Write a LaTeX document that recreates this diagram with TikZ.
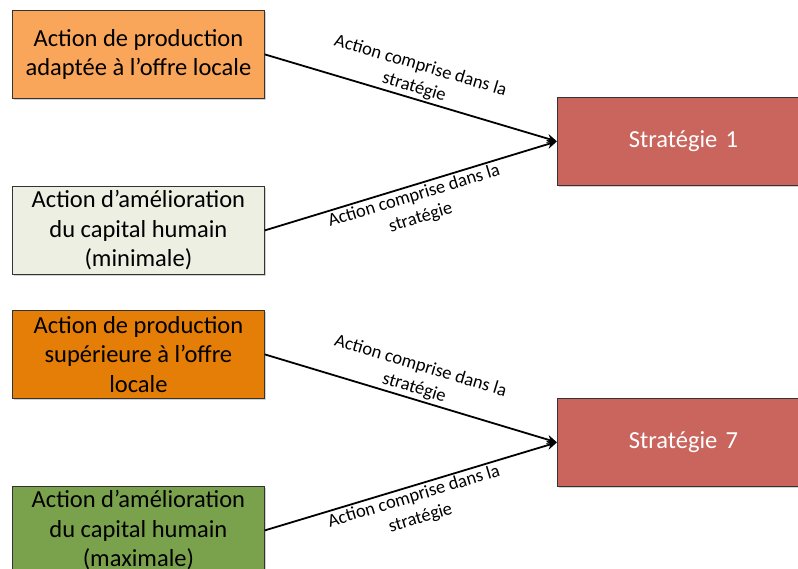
\documentclass[tikz,border=0pt]{standalone}
\usepackage{fontspec}
\setmainfont{Carlito}
\usetikzlibrary{arrows.meta,shadows}

\definecolor{orclair}{RGB}{249,166,90}
\definecolor{orfonce}{RGB}{229,126,6}
\definecolor{creme}{RGB}{238,239,227}
\definecolor{vert}{RGB}{122,161,76}
\definecolor{rouge}{RGB}{202,101,93}

\begin{document}
\begin{tikzpicture}
[x=1pt,y=-1pt,
 action/.style={draw=black!80,line width=0.8pt,anchor=north west,minimum width=252pt,minimum height=88pt,
   align=center,font=\fontsize{24.5}{29.5}\selectfont,inner sep=0pt,
   drop shadow={shadow xshift=1.2pt,shadow yshift=-1.5pt,opacity=0.35}},
 strat/.style={action,text=white,text width=252pt},
 lien/.style={line width=1.8pt,-{Stealth[length=10pt,width=9pt]}},
 etiq/.style={midway,sloped,align=center,font=\fontsize{18.5}{22.5}\selectfont,inner sep=2pt}]
\useasboundingbox (0,0) rectangle (798,569);
\clip (0,0) rectangle (798,569);
\fill[white] (0,0) rectangle (798,569);
%Actions of the first strategy:
\node[action,fill=orclair] (prod1) at (12,10) {Action de production\\adaptée à l’offre locale};
\node[action,fill=creme] (capi1) at (12,186) {Action d’amélioration\\du capital humain\\(minimale)};
\node[strat,fill=rouge] (strat1) at (557,97) {Stratégie 1};
%Actions of the seventh strategy:
\node[action,fill=orfonce] (prod7) at (12,310) {Action de production\\supérieure à l’offre\\locale};
\node[action,fill=vert] (capi7) at (12,486) {Action d’amélioration\\du capital humain\\(maximale)};
\node[strat,fill=rouge] (strat7) at (557,398) {Stratégie 7};

\draw[lien] (prod1.east) -- (strat1.west) node[etiq,above] {Action comprise dans la\\stratégie};
\draw[lien] (capi1.east) -- (strat1.west) node[etiq,below] {Action comprise dans la\\stratégie};
\draw[lien] (prod7.east) -- (strat7.west) node[etiq,above] {Action comprise dans la\\stratégie};
\draw[lien] (capi7.east) -- (strat7.west) node[etiq,below] {Action comprise dans la\\stratégie};
\end{tikzpicture}
\end{document}
